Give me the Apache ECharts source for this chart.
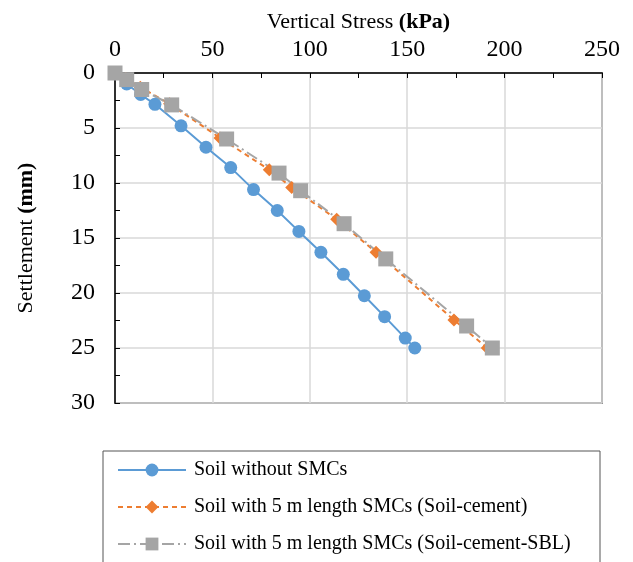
<!DOCTYPE html>
<html>
<head>
<meta charset="utf-8">
<script src="https://cdn.jsdelivr.net/npm/echarts@6/dist/echarts.min.js"></script>
<style>
  html, body { margin: 0; padding: 0; background: #fff; }
  #chart { width: 633px; height: 562px; }
</style>
</head>
<body>
<div id="chart"></div>
<script>
// stress (kPa) and settlement (mm)
var soilStress = [0, 6.0, 13.2, 20.5, 33.9, 46.7, 59.4, 71.1, 83.3, 94.4, 105.7, 117.2, 128.0, 138.4, 149.0, 153.9];
var soilSettle = [0, 1.0, 1.95, 2.85, 4.8, 6.75, 8.6, 10.6, 12.5, 14.4, 16.3, 18.3, 20.25, 22.15, 24.1, 25.0];

var cementStress = [0, 5.5, 13.0, 28.0, 53.9, 79.2, 90.7, 113.8, 134.0, 174.0, 191.1];
var cementSettle = [0, 0.5, 1.3, 2.8, 5.9, 8.8, 10.4, 13.3, 16.3, 22.45, 25.0];

var sblStress = [0, 6.0, 13.7, 29.1, 57.3, 84.2, 95.3, 117.6, 139.0, 180.5, 193.7];
var sblSettle = [0, 0.6, 1.5, 2.9, 6.0, 9.1, 10.7, 13.7, 16.9, 23.0, 25.0];

var seriesNames = [
    'Soil without SMCs',
    'Soil with 5 m length SMCs (Soil-cement)',
    'Soil with 5 m length SMCs (Soil-cement-SBL)'
];

function pairs(xs, ys) {
    return xs.map(function (x, i) { return [x, ys[i]]; });
}

var font = '"Liberation Serif", "Times New Roman", serif';
var chart = echarts.init(document.getElementById('chart'));

var option = {
    animation: false,
    textStyle: { fontFamily: font, color: '#000' },
    grid: {
        left: 115, right: 31, top: 73, bottom: 159,
        show: true, borderColor: '#404040', borderWidth: 1.5
    },
    graphic: [{
        type: 'rect',
        shape: { x: 103, y: 451, width: 497, height: 130 },
        style: { fill: 'none', stroke: '#555', lineWidth: 1 }
    }],
    legend: {
        orient: 'vertical',
        left: 117, top: 460,
        padding: 0,
        itemWidth: 68, itemHeight: 16, itemGap: 17,
        textStyle: { fontFamily: font, fontSize: 20, color: '#000', padding: [0, 0, 0, 3] },
        data: seriesNames
    },
    xAxis: {
        type: 'value',
        position: 'top',
        min: 0, max: 250, interval: 50,
        name: 'Vertical Stress {b|(kPa)}',
        nameLocation: 'middle',
        nameGap: 40,
        nameTextStyle: {
            fontFamily: font, fontSize: 22, color: '#000',
            rich: { b: { fontFamily: font, fontSize: 22, fontWeight: 'bold', color: '#000' } }
        },
        axisLine: { show: true, lineStyle: { color: '#000', width: 1.5 } },
        axisTick: { show: true, inside: true, length: 5, lineStyle: { color: '#000' } },
        minorTick: { show: true, splitNumber: 2, length: 5, lineStyle: { color: '#000' } },
        axisLabel: { fontFamily: font, fontSize: 24, color: '#000', margin: 11 },
        splitLine: { show: true, lineStyle: { color: '#d9d9d9', width: 1.5 } }
    },
    yAxis: {
        type: 'value',
        inverse: true,
        min: 0, max: 30, interval: 5,
        name: 'Settlement {b|(mm)}',
        nameLocation: 'middle',
        nameGap: 78,
        nameRotate: 90,
        nameTextStyle: {
            fontFamily: font, fontSize: 22, color: '#000',
            rich: { b: { fontFamily: font, fontSize: 22, fontWeight: 'bold', color: '#000' } }
        },
        axisLine: { show: true, lineStyle: { color: '#000', width: 1.5 } },
        axisTick: { show: true, inside: true, length: 5, lineStyle: { color: '#000' } },
        minorTick: { show: true, splitNumber: 2, length: 5, lineStyle: { color: '#000' } },
        axisLabel: { fontFamily: font, fontSize: 24, color: '#000', margin: 20 },
        splitLine: { show: true, lineStyle: { color: '#d9d9d9', width: 1.5 } }
    },
    series: [
        {
            name: seriesNames[0],
            type: 'line',
            data: pairs(soilStress, soilSettle),
            symbol: 'circle', symbolSize: 13,
            lineStyle: { color: '#5b9bd5', width: 2 },
            itemStyle: { color: '#5b9bd5' }
        },
        {
            name: seriesNames[1],
            type: 'line',
            data: pairs(cementStress, cementSettle),
            symbol: 'diamond', symbolSize: 13,
            lineStyle: { color: '#ed7d31', width: 2, type: [5, 4] },
            itemStyle: { color: '#ed7d31' }
        },
        {
            name: seriesNames[2],
            type: 'line',
            data: pairs(sblStress, sblSettle),
            symbol: 'rect', symbolSize: 15,
            lineStyle: { color: '#a5a5a5', width: 2, type: [12, 4, 2, 4] },
            itemStyle: { color: '#a5a5a5' }
        }
    ]
};

chart.setOption(option);
</script>
</body>
</html>
